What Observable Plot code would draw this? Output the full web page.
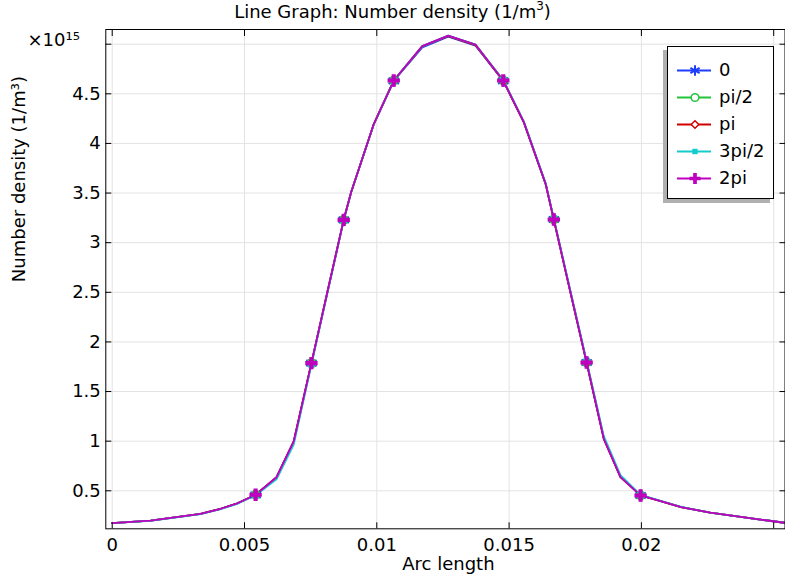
<!DOCTYPE html>
<html>
<head>
<meta charset="utf-8">
<script src="https://cdn.jsdelivr.net/npm/d3@7"></script>
<script src="https://cdn.jsdelivr.net/npm/@observablehq/plot@0.6"></script>
<style>
  body { margin: 0; background: #fff; font-family: "DejaVu Sans", sans-serif; }
  #wrap { position: relative; width: 785px; height: 576px; overflow: hidden; background: #fff; }
  #title { height: 24px; line-height: 24px; font-size: 18px; text-align: center; white-space: nowrap; color: #000; }
  #title .sup { font-size: 12px; position: relative; top: -8px; }
  #chart svg { display: block; }
  #legend { position: absolute; left: 667px; top: 46px; width: 107px; height: 153px; box-sizing: border-box;
            border: 1px solid #000; background: #fff; box-shadow: -4px 4px 0 #b0b0b0; }
  #legend svg { display: block; }
</style>
</head>
<body>
<div id="wrap">
  <div id="title">Line Graph: Number density (1/m<span class="sup">3</span>)</div>
  <div id="chart"></div>
  <div id="legend"></div>
</div>
<script>
// Arc length (m)
const arcLength = [0, 0.00145, 0.00334, 0.0041, 0.0047, 0.00542, 0.00621, 0.00686, 0.00753, 0.00814,
  0.00875, 0.00903, 0.00989, 0.01064, 0.01172, 0.0127, 0.01373, 0.01478, 0.01556, 0.01638,
  0.01669, 0.01731, 0.01793, 0.01858, 0.01921, 0.01997, 0.02073, 0.0215, 0.0226, 0.0245, 0.0254];

// Number density (×10^15 1/m^3) for each phase
const density0 = [0.174, 0.200, 0.268, 0.319, 0.370, 0.458, 0.637, 0.997, 1.786, 2.510,
  3.230, 3.509, 4.195, 4.630, 4.968, 5.075, 4.985, 4.630, 4.210, 3.593,
  3.234, 2.510, 1.793, 1.024, 0.637, 0.453, 0.395, 0.335, 0.280, 0.210, 0.178];
const densityPi2 = [0.174, 0.200, 0.268, 0.319, 0.370, 0.460, 0.630, 0.990, 1.786, 2.510,
  3.230, 3.509, 4.198, 4.634, 4.978, 5.085, 4.995, 4.634, 4.214, 3.593,
  3.234, 2.510, 1.793, 1.030, 0.642, 0.453, 0.395, 0.335, 0.280, 0.210, 0.178];
const densityPi = [0.174, 0.200, 0.268, 0.319, 0.370, 0.460, 0.635, 0.995, 1.786, 2.510,
  3.230, 3.509, 4.198, 4.634, 4.980, 5.082, 4.990, 4.630, 4.210, 3.593,
  3.234, 2.510, 1.793, 1.024, 0.637, 0.453, 0.395, 0.335, 0.280, 0.210, 0.178];
const density3Pi2 = [0.174, 0.198, 0.265, 0.315, 0.366, 0.455, 0.615, 0.965, 1.770, 2.500,
  3.225, 3.505, 4.195, 4.634, 4.980, 5.087, 4.997, 4.638, 4.220, 3.600,
  3.245, 2.525, 1.810, 1.050, 0.658, 0.458, 0.398, 0.337, 0.281, 0.210, 0.178];
const density2Pi = [0.174, 0.200, 0.268, 0.319, 0.370, 0.460, 0.637, 0.997, 1.786, 2.510,
  3.230, 3.509, 4.198, 4.634, 4.980, 5.087, 4.997, 4.634, 4.214, 3.593,
  3.234, 2.510, 1.793, 1.024, 0.637, 0.453, 0.395, 0.335, 0.280, 0.210, 0.178];

// Points carrying markers (indices into arcLength)
const markerIndex = [5, 8, 10, 13, 17, 20, 22, 25];

// Series names, colors, markers
const seriesNames = ["0", "pi/2", "pi", "3pi/2", "2pi"];
const seriesColors = ["#1f3dff", "#22c43a", "#d00000", "#14cccc", "#c000c0"];
const seriesValues = [density0, densityPi2, densityPi, density3Pi2, density2Pi];

// Axis ticks
const xTicks = [0, 0.005, 0.01, 0.015, 0.02, 0.025];
const xTickLabels = [0, 0.005, 0.01, 0.015, 0.02];
const yTicks = [0.5, 1, 1.5, 2, 2.5, 3, 3.5, 4, 4.5, 5];
const yTickLabels = [0.5, 1, 1.5, 2, 2.5, 3, 3.5, 4, 4.5];

const symbolStyle = [
  {symbol: "asterisk", r: 5.6, fill: "none", strokeWidth: 2},
  {symbol: "circle", r: 4.3, fill: "white", strokeWidth: 1.5},
  {symbol: "diamond2", r: 3.8, fill: "white", strokeWidth: 1.5},
  {symbol: "square", r: 3.4, fill: "color", strokeWidth: 0},
  {symbol: "cross", r: 5.2, fill: "color", strokeWidth: 0}
];

function dotOptions(k, scale = 1) {
  const st = symbolStyle[k];
  const c = seriesColors[k];
  return {
    symbol: st.symbol, r: st.r * scale,
    fill: st.fill === "color" ? c : st.fill,
    stroke: st.strokeWidth ? c : "none",
    strokeWidth: st.strokeWidth || 0
  };
}

const lineMarks = [];
const markerMarks = [];
seriesNames.forEach((name, k) => {
  const vals = seriesValues[k];
  const rows = arcLength.map((x, i) => ({x, y: vals[i]}));
  const markers = markerIndex.map(i => ({x: arcLength[i], y: vals[i]}));
  lineMarks.push(Plot.line(rows, {x: "x", y: "y", stroke: seriesColors[k], strokeWidth: 1.8}));
  markerMarks.push(Plot.dot(markers, {x: "x", y: "y", ...dotOptions(k)}));
});

const chart = Plot.plot({
  width: 785,
  height: 552,
  marginLeft: 105.3,
  marginRight: 0.5,
  marginTop: 5,
  marginBottom: 47.7,
  style: {fontFamily: "DejaVu Sans", fontSize: "18px", background: "white", color: "black", overflow: "visible"},
  x: {domain: [-0.000242, 0.025427]},
  y: {domain: [0.117, 5.148]},
  marks: [
    Plot.gridX(xTicks, {stroke: "#e3e3e3", strokeOpacity: 1, strokeWidth: 1}),
    Plot.gridY(yTicks, {stroke: "#e3e3e3", strokeOpacity: 1, strokeWidth: 1}),
    ...lineMarks,
    ...markerMarks,
    Plot.frame({stroke: "black", strokeWidth: 1}),
    Plot.axisX(xTicks, {anchor: "bottom", tickSize: -6, fill: "none", label: null}),
    Plot.axisX(xTicks, {anchor: "top", tickSize: -6, fill: "none", label: null}),
    Plot.axisY(yTicks, {anchor: "left", tickSize: -6, fill: "none", label: null}),
    Plot.axisY(yTicks, {anchor: "right", tickSize: -6, fill: "none", label: null}),
    Plot.axisX(xTickLabels, {anchor: "bottom", tickSize: 0, tickPadding: 9, label: null, tickFormat: d => String(d)}),
    Plot.axisY(yTickLabels, {anchor: "left", tickSize: 0, tickPadding: 5, label: null, tickFormat: d => String(d)}),
    Plot.text(["×10¹⁵"], {frameAnchor: "top-left", dx: -78.3, dy: 16, text: d => d, textAnchor: "start", lineAnchor: "bottom", fontSize: 18}),
    Plot.text(["Arc length"], {frameAnchor: "bottom", dx: 3, dy: 35.5, text: d => d, lineAnchor: "middle", fontSize: 18}),
    Plot.text(["Number density (1/m³)"], {frameAnchor: "left", dx: -87, dy: 3, rotate: -90, text: d => d, lineAnchor: "middle", fontSize: 18})
  ]
});
document.getElementById("chart").appendChild(chart);

// Legend (inside the plot area, top right)
const legendMarks = [];
seriesNames.forEach((name, k) => {
  legendMarks.push(Plot.ruleY([name], {x1: 9, x2: 43, stroke: seriesColors[k], strokeWidth: 1.8}));
  legendMarks.push(Plot.dot([name], {x: 26.5, y: d => d, ...dotOptions(k, 0.9)}));
  legendMarks.push(Plot.text([name], {x: 50.5, y: d => d, text: d => d, textAnchor: "start", lineAnchor: "middle", fill: "black", fontSize: 18}));
});
const legend = Plot.plot({
  width: 105,
  height: 151,
  margin: 0,
  x: {domain: [0, 105], range: [0, 105], axis: null},
  y: {type: "point", domain: seriesNames, range: [21.5, 133], padding: 0, axis: null},
  style: {fontFamily: "DejaVu Sans", fontSize: "18px", background: "white", color: "black", overflow: "visible"},
  marks: legendMarks
});
document.getElementById("legend").appendChild(legend);
</script>
</body>
</html>
